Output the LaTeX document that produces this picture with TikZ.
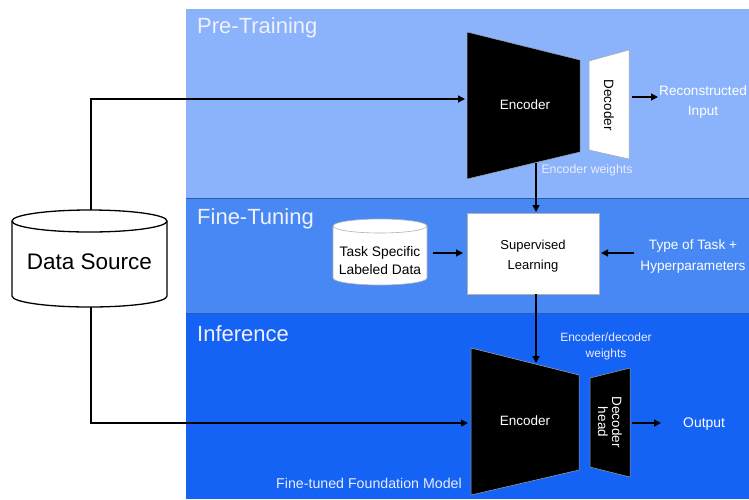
\documentclass[tikz,border=0pt]{standalone}
\usepackage{fontspec}
\setmainfont{Liberation Sans}
\usetikzlibrary{arrows.meta}
\definecolor{preC}{RGB}{138,179,251}
\definecolor{fineC}{RGB}{72,136,245}
\definecolor{infC}{RGB}{20,99,244}
\definecolor{sepC}{RGB}{45,90,170}
\tikzset{
  panel/.style={draw=sepC, line width=0.8pt},
  title/.style={anchor=base west, text=white!94!blue, font=\fontsize{22}{24}\selectfont, inner sep=0pt},
  wtxt/.style={text=white, align=center, font=\fontsize{13.6}{20}\selectfont, inner sep=0pt},
  smalltxt/.style={text=white!92!blue, align=center, font=\fontsize{12.3}{16}\selectfont, inner sep=0pt},
  enc/.style={fill=black, draw=gray!70, line width=0.5pt},
  decw/.style={fill=white, draw=gray!70, line width=0.5pt},
  conn/.style={line width=1.3pt, draw=black},
  arr/.style={conn, -{Triangle[length=7pt,width=7pt]}},
  cyl/.style={fill=white, draw=black, line width=1.3pt},
}
\begin{document}
\begin{tikzpicture}[x=1pt,y=-1pt]
\useasboundingbox (0,0) rectangle (749,499);
\fill[white] (0,0) rectangle (749,499);
% panels
\fill[preC] (186,9) rectangle (749,198);
\fill[fineC] (186,198) rectangle (749,313);
\fill[infC] (186,313) rectangle (749,499);
\draw[panel] (186,198) -- (749,198);
\draw[panel] (186,313) -- (749,313);
\node[title] (tpre) at (197,33.5) {Pre-Training};
\node[title] (tfine) at (197,224) {Fine-Tuning};
\node[title] (tinf) at (197,341) {Inference};

% data source cylinder
\draw[cyl] (12,221) -- (12,296) arc (180:0:77.5 and 11) -- (167,221) arc (0:-180:77.5 and 11) -- cycle;
\draw[cyl] (12,221) arc (180:0:77.5 and 11);
\node[font=\fontsize{22.5}{24}\selectfont, minimum width=155pt, minimum height=98pt, inner sep=0pt] (ds) at (89.5,262) {Data Source};
\coordinate (dstop) at (91,210);
\coordinate (dsbot) at (91,307);

% pre-training encoder/decoder
\draw[enc] (467,32) -- (580,60) -- (580,152) -- (467,179) -- cycle;
\node[text=white, font=\fontsize{13.5}{15}\selectfont] (enc1) at (525,105) {Encoder};
\draw[decw] (589,61) -- (629,50) -- (629,159) -- (589,150) -- cycle;
\node[rotate=-90, font=\fontsize{13.5}{15}\selectfont, inner sep=0pt] (dec1) at (609,105) {Decoder};
\coordinate (enc1in) at (465,99);
\coordinate (enc1bot) at (536,163);
\coordinate (dec1out) at (632,97);
\coordinate (rec) at (658,97);
\node[wtxt, anchor=west] (recon) at (659,102) {Reconstructed\\Input};
\node[smalltxt] (encw) at (587,170) {Encoder weights};

\draw[arr] (dstop) |- (enc1in);
\draw[arr] (dec1out) -- (rec);

% fine-tuning
\node[fill=white, draw=gray!60, line width=0.5pt, minimum width=132pt, minimum height=81pt, align=center, font=\fontsize{13}{20}\selectfont] (sl) at (533,253.5) {\strut Supervised\\Learning};
\coordinate (slin) at (536,212);
\coordinate (slout) at (536,294);
\draw[cyl, line width=0.6pt, draw=gray!60] (333,226) -- (333,278) arc (180:0:47 and 7) -- (427,226) arc (0:-180:47 and 7) -- cycle;
\draw[line width=0.6pt, draw=gray!60] (333,226) arc (180:0:47 and 7);
\node[align=center, font=\fontsize{13.8}{18}\selectfont, inner sep=0pt, minimum width=94pt] (tsd) at (380,261) {Task Specific\\Labeled Data};
\coordinate (tsdout) at (433,253);
\coordinate (slleft) at (463,253);
\coordinate (slright) at (601,253);
\coordinate (hypin) at (634,253);
\node[wtxt, font=\fontsize{13.6}{21}\selectfont] (hyp) at (693,256) {Type of Task +\\Hyperparameters};

\draw[arr] (enc1bot) -- (slin);
\draw[arr] (tsdout) -- (slleft);
\draw[arr] (hypin) -- (slright);

% inference
\draw[enc] (471,348) -- (579,375) -- (579,470) -- (471,495) -- cycle;
\node[text=white, font=\fontsize{13.5}{15}\selectfont] (enc2) at (525,421) {Encoder};
\draw[enc] (590,378) -- (630,368) -- (630,477) -- (590,467) -- cycle;
\node[rotate=-90, text=white, align=center, font=\fontsize{13.5}{14}\selectfont, inner sep=0pt] (dec2) at (610,422) {Decoder\\head};
\coordinate (enc2top) at (536,363);
\coordinate (enc2in) at (468,423);
\coordinate (dec2out) at (632,423);
\coordinate (outp) at (661,423);
\node[wtxt, anchor=west, font=\fontsize{13.9}{20}\selectfont] (out) at (683,424) {Output};
\node[smalltxt, font=\fontsize{12}{16}\selectfont] (edw) at (606,346) {Encoder/decoder\\weights};
\node[smalltxt, font=\fontsize{14.2}{15}\selectfont] (ftfm) at (369,483) {Fine-tuned Foundation Model};

\draw[arr] (slout) -- (enc2top);
\draw[arr] (dsbot) |- (enc2in);
\draw[arr] (dec2out) -- (outp);
\end{tikzpicture}
\end{document}
